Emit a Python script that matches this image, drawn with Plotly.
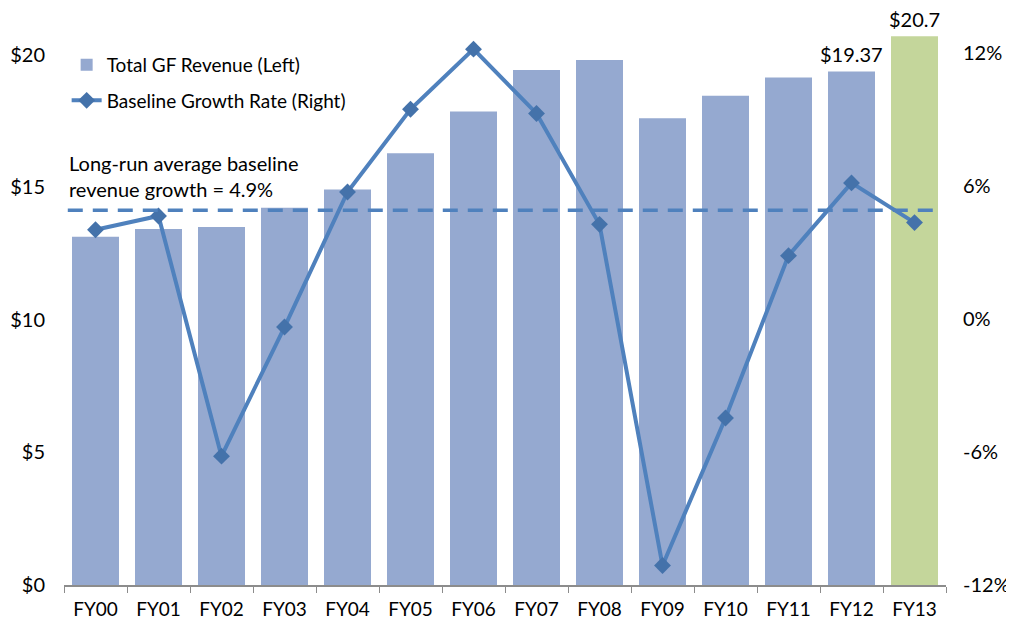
import plotly.graph_objects as go

categories = ["FY00", "FY01", "FY02", "FY03", "FY04", "FY05", "FY06",
              "FY07", "FY08", "FY09", "FY10", "FY11", "FY12", "FY13"]
revenue = [13.14, 13.43, 13.50, 14.23, 14.92, 16.29, 17.86,
           19.43, 19.80, 17.61, 18.45, 19.14, 19.37, 20.70]
revenue_labels = ["", "", "", "", "", "", "", "", "", "", "", "", "$19.37", "$20.7"]
growth = [4.02, 4.64, -6.19, -0.37, 5.72, 9.45, 12.16,
          9.26, 4.26, -11.12, -4.47, 2.85, 6.13, 4.34]
long_run_avg = 4.9
left_ticks = [0, 5, 10, 15, 20]
left_tick_text = ["$0", "$5", "$10", "$15", "$20"]
right_ticks = [-12, -6, 0, 6, 12]
right_tick_text = ["-12%", "-6%", "0%", "6%", "12%"]

BLUE_BAR = "#95A9D0"
GREEN_BAR = "#C4D69B"
LINE = "#4F81BD"
MARK = "#4472AA"
FONT = "Lato"

bar_colors = [BLUE_BAR] * (len(categories) - 1) + [GREEN_BAR]

fig = go.Figure()
fig.add_trace(go.Bar(
    x=categories, y=revenue, name="Total GF Revenue (Left)",
    marker=dict(color=bar_colors, line=dict(width=0)),
    legendgroup="a", yaxis="y",
))
fig.add_trace(go.Scatter(
    x=categories, y=growth, name="Baseline Growth Rate (Right)",
    mode="lines+markers", yaxis="y2",
    line=dict(color=LINE, width=4),
    marker=dict(symbol="diamond", size=13, color=MARK),
    legendgroup="b",
))

# value labels above the last two bars
for cat, val, lab in zip(categories, revenue, revenue_labels):
    if lab:
        fig.add_annotation(x=cat, y=val, xref="x", yref="y", text=lab,
                           showarrow=False, yanchor="bottom", yshift=3,
                           font=dict(family=FONT, size=20, color="#000000"))

fig.add_shape(type="line", xref="x", yref="y2",
              x0=-0.44, x1=13.36, y0=long_run_avg, y1=long_run_avg,
              line=dict(color=LINE, width=3.5, dash="15px,10px"), layer="above")

fig.add_annotation(
    xref="paper", yref="paper", x=0.0035, y=0.67, xanchor="left", yanchor="bottom",
    text="Long-run average baseline<br>revenue growth = %.1f%%" % long_run_avg,
    showarrow=False, align="left",
    font=dict(family=FONT, size=20, color="#000000"),
)

fig.update_layout(
    width=1006, height=616,
    margin=dict(l=56, r=68, t=7, b=39, autoexpand=False),
    paper_bgcolor="white", plot_bgcolor="white",
    bargap=0.254,
    font=dict(family=FONT, size=19, color="#000000"),
    showlegend=True,
    legend=dict(x=0.003, y=0.946, xanchor="left", yanchor="top",
                bgcolor="rgba(0,0,0,0)", tracegroupgap=8,
                traceorder="grouped",
                font=dict(family=FONT, size=19, color="#000000"),
                itemwidth=30),
    xaxis=dict(range=[-0.5, len(categories) - 0.5],
               showline=True, linecolor="#8C8C8C", linewidth=2,
               ticks="outside", ticklen=6, tickcolor="#8C8C8C", tickwidth=1,
               tickson="boundaries", showgrid=False, automargin=False,
               ticklabelstandoff=6,
               tickfont=dict(family=FONT, size=19)),
    yaxis=dict(range=[0, 21.5], tickvals=left_ticks, ticktext=left_tick_text,
               showgrid=False, zeroline=False, showline=False, ticks="",
               ticklabelstandoff=18, automargin=False,
               tickfont=dict(family=FONT, size=20)),
    yaxis2=dict(range=[-12, 13.7], overlaying="y", side="right",
                tickvals=right_ticks, ticktext=right_tick_text,
                showgrid=False, zeroline=False, showline=False, ticks="",
                ticklabelstandoff=16, automargin=False,
                tickfont=dict(family=FONT, size=20)),
)

fig.write_html("out.html")
